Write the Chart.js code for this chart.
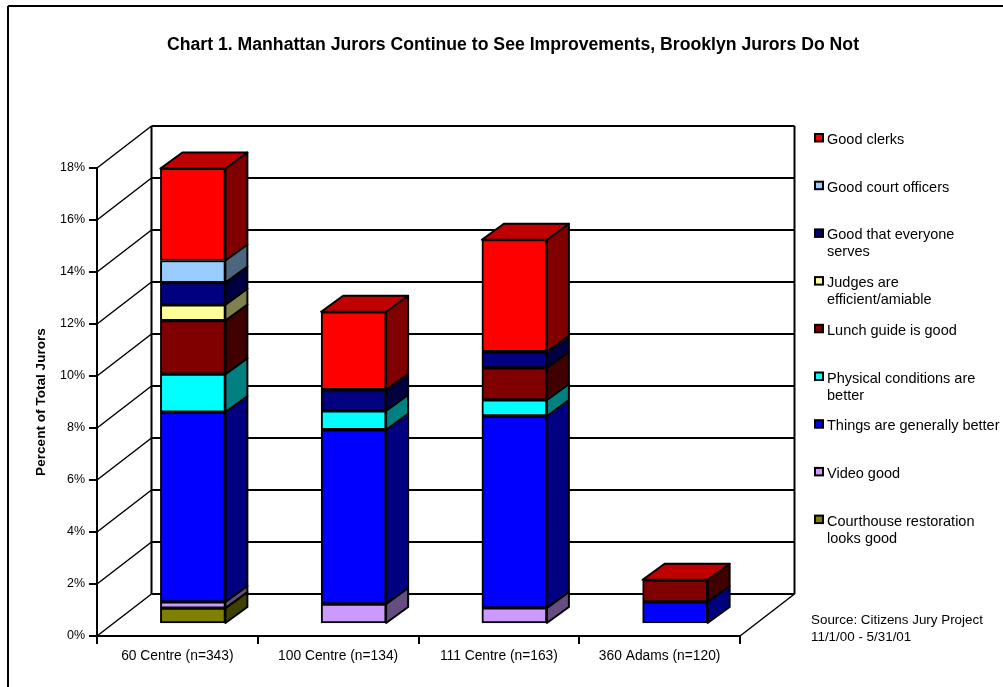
<!DOCTYPE html>
<html>
<head>
<meta charset="utf-8">
<title>Chart 1</title>
<script src="https://cdn.jsdelivr.net/npm/chart.js@4/dist/chart.umd.min.js"></script>
<style>
  html, body { margin: 0; background: #fff; }
  canvas { display: block; }
</style>
</head>
<body>
<canvas id="chart" width="1003" height="687"></canvas>
<script>
// data, percent of jurors per courthouse
const categories = ['60 Centre (n=343)', '100 Centre (n=134)', '111 Centre (n=163)', '360 Adams (n=120)'];
const yTicks = [0, 2, 4, 6, 8, 10, 12, 14, 16, 18];

const courthouse = [0.61, 0, 0, 0];
const video      = [0.24, 0.77, 0.62, 0];
const things     = [7.30, 6.70, 7.38, 0.85];
const physical   = [1.46, 0.73, 0.62, 0];
const lunch      = [2.06, 0, 1.23, 0.85];
const judges     = [0.61, 0, 0, 0];
const everyone   = [0.85, 0.81, 0.62, 0];
const officers   = [0.85, 0, 0, 0];
const clerks     = [3.54, 3.00, 4.31, 0];

// bottom of the stack first, legend runs the other way
const seriesNames = [
  ['Courthouse restoration', 'looks good'], ['Video good'], ['Things are generally better'],
  ['Physical conditions are', 'better'], ['Lunch guide is good'], ['Judges are', 'efficient/amiable'],
  ['Good that everyone', 'serves'], ['Good court officers'], ['Good clerks']
];
const seriesValues = [courthouse, video, things, physical, lunch, judges, everyone, officers, clerks];
const frontColors = ['#808000', '#CC99FF', '#0000FF', '#00FFFF', '#800000', '#FFFF99', '#000080', '#99CCFF', '#FF0000'];
const sideColors  = ['#404000', '#664D80', '#000080', '#008080', '#400000', '#80804D', '#000040', '#4D6680', '#800000'];
const topColor = '#C00000';
const sourceLines = ['Source: Citizens Jury Project', '11/1/00 - 5/31/01'];

const FONT = '"Liberation Sans", Arial, sans-serif';
const WALL = { x: 54.5, y: -42 };  // front plane to back wall
const PLANE = { x: 15.5, y: -12 }; // front plane to bar fronts
const DEPTH = { x: 22, y: -16 };   // bar depth

function poly(ctx, pts, fill) {
  ctx.beginPath();
  pts.forEach((p, i) => i ? ctx.lineTo(p[0], p[1]) : ctx.moveTo(p[0], p[1]));
  ctx.closePath();
  if (fill) { ctx.fillStyle = fill; ctx.fill(); }
  ctx.stroke();
}

function line(ctx, x1, y1, x2, y2) {
  ctx.beginPath();
  ctx.moveTo(x1, y1);
  ctx.lineTo(x2, y2);
  ctx.stroke();
}

const box3d = {
  id: 'box3d',
  afterLayout(chart) {
    // title is centred on the whole picture, not on the plot
    chart.titleBlock.left = 23;
    chart.titleBlock.right = 1003;
  },
  beforeDatasetsDraw(chart) {
    const { ctx, chartArea: a, scales: { y } } = chart;
    ctx.save();
    ctx.strokeStyle = '#000';

    // walls and gridlines
    yTicks.forEach(t => {
      const py = y.getPixelForValue(t);
      ctx.lineWidth = 1.5;
      line(ctx, a.left, py, a.left + WALL.x, py + WALL.y);
      ctx.lineWidth = 2;
      line(ctx, a.left + WALL.x, py + WALL.y, a.right + WALL.x, py + WALL.y);
    });
    line(ctx, a.left + WALL.x, a.top + WALL.y, a.left + WALL.x, a.bottom + WALL.y);
    line(ctx, a.right + WALL.x, a.top + WALL.y, a.right + WALL.x, a.bottom + WALL.y);
    ctx.lineWidth = 1.5;
    line(ctx, a.right, a.bottom, a.right + WALL.x, a.bottom + WALL.y);
    ctx.restore();

    // bar sides and tops, fronts come from chart.js in the shifted plane
    ctx.save();
    ctx.translate(PLANE.x, PLANE.y);
    ctx.save();
    ctx.strokeStyle = '#000';
    ctx.lineWidth = 2;
    ctx.lineJoin = 'round';
    chart.data.datasets.forEach((ds, i) => {
      chart.getDatasetMeta(i).data.forEach((bar, j) => {
        const r = bar.x + bar.width / 2;
        if (seriesValues[i][j] > 0) {
          poly(ctx, [[r, bar.y], [r + DEPTH.x, bar.y + DEPTH.y], [r + DEPTH.x, bar.base + DEPTH.y], [r, bar.base]], sideColors[i]);
        }
        if (i === seriesValues.length - 1) {
          const l = bar.x - bar.width / 2;
          poly(ctx, [[l, bar.y], [l + DEPTH.x, bar.y + DEPTH.y], [r + DEPTH.x, bar.y + DEPTH.y], [r, bar.y]], topColor);
        }
      });
    });
    ctx.restore();
  },
  afterDatasetsDraw(chart) {
    chart.ctx.restore();
  },
  afterDraw(chart) {
    const { ctx } = chart;
    ctx.save();
    // frame, only top and left show in the picture
    ctx.strokeStyle = '#000';
    ctx.lineWidth = 2;
    line(ctx, 8, 6, 1003, 6);
    line(ctx, 8, 6, 8, 687);

    // legend
    ctx.font = '14.5px ' + FONT;
    ctx.textBaseline = 'alphabetic';
    const order = seriesNames.map((_, i) => i).reverse();
    order.forEach((s, k) => {
      const top = 134 + k * 47.7;
      ctx.fillStyle = frontColors[s];
      ctx.fillRect(815, top, 8, 7.5);
      ctx.strokeRect(815, top, 8, 7.5);
      ctx.fillStyle = '#000';
      seriesNames[s].forEach((txt, n) => ctx.fillText(txt, 827, top + 10 + n * 17));
    });

    // source note
    ctx.font = '13.4px ' + FONT;
    sourceLines.forEach((txt, n) => ctx.fillText(txt, 811, 624 + n * 16.5));
    ctx.restore();
  }
};

new Chart(document.getElementById('chart'), {
  type: 'bar',
  data: {
    labels: categories,
    datasets: seriesValues.map((vals, i) => ({
      label: seriesNames[i].join(' '),
      data: vals,
      backgroundColor: frontColors[i],
      borderColor: '#000',
      borderWidth: 2,
      borderSkipped: false,
      barThickness: 65
    }))
  },
  options: {
    responsive: false,
    animation: false,
    layout: { padding: { right: 263 } },
    plugins: {
      legend: { display: false },
      tooltip: { enabled: false },
      title: {
        display: true,
        text: 'Chart 1. Manhattan Jurors Continue to See Improvements, Brooklyn Jurors Do Not',
        color: '#000',
        font: { family: FONT, size: 17.65, weight: 'bold', lineHeight: 1.2 },
        padding: { top: 34.5, bottom: 112.3 }
      }
    },
    scales: {
      x: {
        stacked: true,
        afterFit(scale) { scale.height = 51; },
        grid: { drawOnChartArea: false, color: '#000', lineWidth: 2, tickLength: 8 },
        border: { color: '#000', width: 2 },
        ticks: { color: '#000', font: { family: FONT, size: 13.8 }, padding: 4, maxRotation: 0 }
      },
      y: {
        stacked: true,
        min: 0,
        max: 18,
        afterFit(scale) { scale.width = 97; },
        afterBuildTicks(scale) { scale.ticks = yTicks.map(v => ({ value: v })); },
        grid: { drawOnChartArea: false, color: '#000', lineWidth: 2, tickLength: 8 },
        border: { color: '#000', width: 2 },
        ticks: { color: '#000', font: { family: FONT, size: 12.5 }, padding: 4, callback: v => v + '%' },
        title: {
          display: true,
          text: 'Percent of Total Jurors',
          color: '#000',
          font: { family: FONT, size: 13.6, weight: 'bold' },
          padding: { top: 33, bottom: 0 }
        }
      }
    }
  },
  plugins: [box3d]
});
</script>
</body>
</html>
